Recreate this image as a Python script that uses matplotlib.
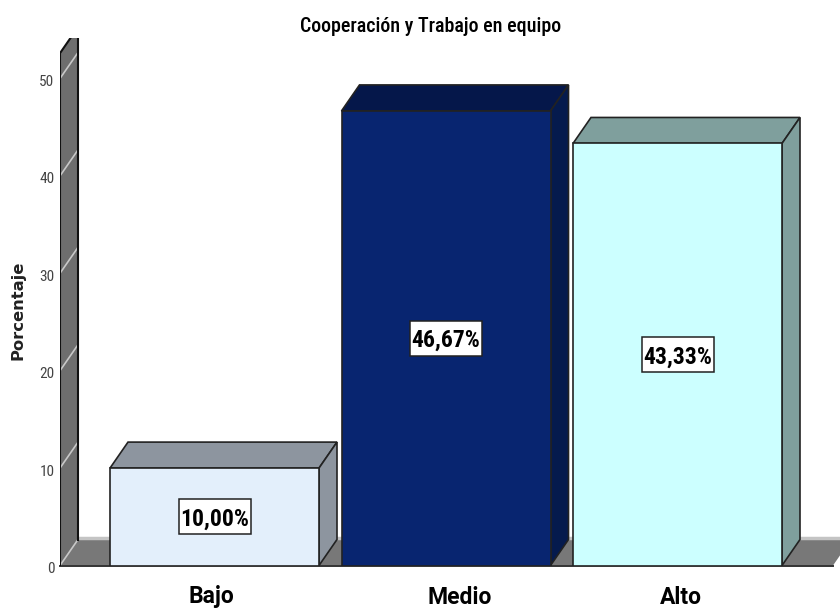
import matplotlib
matplotlib.use("Agg")
import matplotlib.pyplot as plt
from matplotlib.patches import Polygon, Rectangle
from matplotlib.transforms import ScaledTranslation

categories = ["Bajo", "Medio", "Alto"]
percentages = [10.00, 46.67, 43.33]
front_colors = ["#e3effb", "#082570", "#ccffff"]
top_colors = ["#8d959f", "#05174a", "#7f9f9d"]
side_colors = ["#8d959f", "#051a4d", "#7f9f9d"]
y_ticks = [0, 10, 20, 30, 40, 50]
# category labels sit a bit off the bar centres
label_centers_px = [211, 460, 681]

narrow = "Roboto Condensed"

W, H = 840, 612
fig = plt.figure(figsize=(W / 100, H / 100), dpi=100, facecolor="white")
# axes box in pixels: left 60, right 840, y=0 at 565.5, top at 38
ax = fig.add_axes([60 / W, (H - 565.5) / H, 780 / W, (565.5 - 38) / H])

xscale = 231.5  # px per category
yscale = 9.74  # px per percent
xmin = (60 - 214.5) / xscale
xmax = (840 - 214.5) / xscale
ymax = (565.5 - 38) / yscale
ax.set_xlim(xmin, xmax)
ax.set_ylim(0, ymax)

# depth of the fake 3d extrusion
dx = 18 / xscale
dy = 26 / yscale
bar_w = 209 / xscale

for s in ax.spines.values():
    s.set_visible(False)

# floor
floor_right = xmin + 773 / xscale
ax.add_patch(Polygon([(xmin, 0), (xmin + dx, dy), (floor_right + dx, dy), (floor_right, 0)],
                     closed=True, fc="#787878", ec="none", zorder=1))
ax.plot([xmin + dx, xmax], [dy + 0.12, dy + 0.12], color="#c4c4c4", lw=2.5, zorder=1.5, solid_capstyle="butt")
ax.plot([xmin, floor_right], [0, 0], color="#333333", lw=1.4, zorder=1.6, clip_on=False)

# back wall seen edge on
wall_top = 52.6
ax.add_patch(Polygon([(xmin, 0), (xmin, wall_top), (xmin + dx, wall_top + dy), (xmin + dx, dy)],
                     closed=True, fc="#6e6e6e", ec="none", zorder=2))
for t in y_ticks:
    ax.plot([xmin, xmin + dx], [t, t + dy], color="#c8c8c8", lw=1.2, zorder=2.2)
ax.plot([xmin, xmin, xmin + dx], [0, wall_top, wall_top + dy], color="#111111", lw=1.5, zorder=2.5)
ax.plot([xmin + dx, xmin + dx], [dy, wall_top + dy], color="#111111", lw=1.5, zorder=2.5)

# bars
xpos = list(range(len(categories)))
ax.bar(xpos, percentages, width=bar_w, color=front_colors, edgecolor="#222222", linewidth=1.2, zorder=4)
box_w = 72 / xscale
box_h = 35 / yscale
for x, v, tc, sc in zip(xpos, percentages, top_colors, side_colors):
    l = x - bar_w / 2
    r = x + bar_w / 2
    ax.add_patch(Polygon([(l, v), (l + dx, v + dy), (r + dx, v + dy), (r, v)],
                         closed=True, fc=tc, ec="#222222", lw=1.2, zorder=3.5))
    ax.add_patch(Polygon([(r, 0), (r + dx, dy), (r + dx, v + dy), (r, v)],
                         closed=True, fc=sc, ec="#222222", lw=1.2, zorder=3.5))
    ax.add_patch(Rectangle((x - box_w / 2, v / 2 - box_h / 2), box_w, box_h,
                           fc="white", ec="#222222", lw=1.1, zorder=5))
    ax.text(x, v / 2, f"{v:.2f}".replace(".", ",") + "%", ha="center", va="center_baseline",
            family=narrow, fontweight="bold", fontsize=17, color="black", zorder=6)

ax.set_yticks(y_ticks)
ax.set_yticklabels([str(t) for t in y_ticks], family=narrow, fontsize=11, color="#444444")
ax.tick_params(axis="y", length=0, pad=4)
ax.set_xticks([])
# nudge the y labels down a little
shift = ScaledTranslation(0, -2 / 100, fig.dpi_scale_trans)
for lab in ax.get_yticklabels():
    lab.set_transform(lab.get_transform() + shift)

for name, cx in zip(categories, label_centers_px):
    fig.text(cx / W, 1 - 597 / H, name, ha="center", va="center",
             family="Roboto", fontweight="bold", fontsize=16.5, color="black")

fig.text(18 / W, 1 - 310 / H, "Porcentaje", rotation=90, ha="center", va="center",
         family="DejaVu Sans", fontweight="bold", fontsize=11.8, color="#222222")
fig.text(431 / W, 1 - 26 / H, "Cooperación y Trabajo en equipo", ha="center", va="center",
         family=narrow, fontsize=14.4, fontweight="medium", color="black")

fig.savefig("out.png", dpi=100, facecolor="white")
